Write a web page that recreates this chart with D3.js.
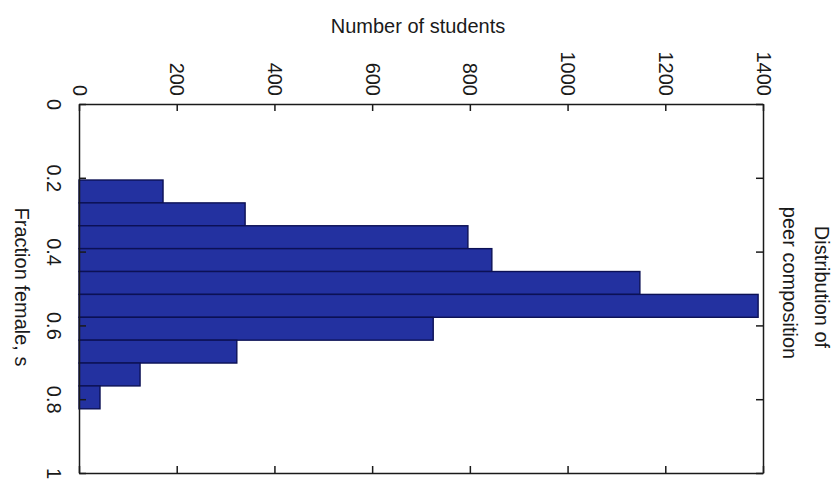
<!DOCTYPE html>
<html>
<head>
<meta charset="utf-8">
<script src="https://cdn.jsdelivr.net/npm/d3@7"></script>
<style>
  html, body { margin: 0; padding: 0; background: #fff; }
  svg { display: block; font-family: "Liberation Sans", Arial, Helvetica, sans-serif; }
</style>
</head>
<body>
<svg id="chart" width="840" height="483"></svg>
<script>
// ---- data ----
const binStart = [0.206, 0.268, 0.330, 0.392, 0.454, 0.516, 0.578, 0.640, 0.702, 0.764];
const binEnd   = [0.268, 0.330, 0.392, 0.454, 0.516, 0.578, 0.640, 0.702, 0.764, 0.826];
const counts   = [172, 340, 796, 845, 1148, 1390, 725, 323, 125, 43];
const countTicks = [0, 200, 400, 600, 800, 1000, 1200, 1400];
const fracTicks  = [0, 0.2, 0.4, 0.6, 0.8, 1];
const fracTickLabels = ["0", "0.2", "0.4", "0.6", "0.8", "1"];
const countTitle = "Number of students";
const fracTitle = "Fraction female, s";
const sideTitle = ["Distribution of", "peer composition"];

// ---- layout ----
const svg = d3.select("#chart");
const pLeft = 79, pRight = 763, pTop = 104, pBottom = 473;
const x = d3.scaleLinear().domain([0, 1400]).range([pLeft, pRight]);
const y = d3.scaleLinear().domain([0, 1]).range([pTop, pBottom]);
const ink = "#1a1a1a";

// bars (horizontal, rotated histogram)
svg.append("g").selectAll("rect")
  .data(counts)
  .join("rect")
  .attr("x", x(0))
  .attr("y", (d, i) => y(binStart[i]))
  .attr("width", d => x(d) - x(0))
  .attr("height", (d, i) => y(binEnd[i]) - y(binStart[i]))
  .attr("fill", "#2331a0")
  .attr("stroke", "#0c1155")
  .attr("stroke-width", 1.4);

function styleAxis(g) {
  g.selectAll(".domain").attr("stroke", ink).attr("stroke-width", 1.5);
  g.selectAll(".tick line").attr("stroke", ink).attr("stroke-width", 1.5);
  g.selectAll("text").attr("fill", ink).attr("font-size", 20)
    .attr("font-family", "'Liberation Sans', Arial, sans-serif");
}

// top axis (counts) with rotated labels
const gTop = svg.append("g").attr("transform", `translate(0,${pTop})`)
  .call(d3.axisTop(x).tickValues(countTicks).tickSizeInner(-7).tickSizeOuter(0).tickFormat(d3.format("d")));
styleAxis(gTop);
gTop.selectAll(".tick text")
  .attr("x", 0).attr("y", 0).attr("dy", "0.35em")
  .attr("text-anchor", "end")
  .attr("transform", "translate(0,-8) rotate(90)");

// bottom axis (ticks only)
const gBottom = svg.append("g").attr("transform", `translate(0,${pBottom})`)
  .call(d3.axisBottom(x).tickValues(countTicks).tickSizeInner(-7).tickSizeOuter(0).tickFormat(""));
styleAxis(gBottom);

// left axis (fraction) with rotated labels
const gLeft = svg.append("g").attr("transform", `translate(${pLeft},0)`)
  .call(d3.axisLeft(y).tickValues(fracTicks).tickSizeInner(-7).tickSizeOuter(0)
    .tickFormat((d, i) => fracTickLabels[i]));
styleAxis(gLeft);
gLeft.selectAll(".tick text")
  .attr("x", 0).attr("y", 0).attr("dy", 0)
  .attr("text-anchor", "middle")
  .attr("transform", "translate(-32,0) rotate(90)");

// right axis (ticks only)
const gRight = svg.append("g").attr("transform", `translate(${pRight},0)`)
  .call(d3.axisRight(y).tickValues(fracTicks).tickSizeInner(-7).tickSizeOuter(0).tickFormat(""));
styleAxis(gRight);

// titles
svg.append("text")
  .attr("x", 418).attr("y", 33)
  .attr("text-anchor", "middle")
  .attr("font-size", 20).attr("fill", ink)
  .text(countTitle);

svg.append("text")
  .attr("transform", "translate(15,287) rotate(90)")
  .attr("text-anchor", "middle")
  .attr("font-size", 20).attr("fill", ink)
  .text(fracTitle);

svg.append("text")
  .attr("transform", "translate(815,287) rotate(90)")
  .attr("text-anchor", "middle")
  .attr("font-size", 20).attr("fill", ink)
  .text(sideTitle[0]);

svg.append("text")
  .attr("transform", "translate(783,283) rotate(90)")
  .attr("text-anchor", "middle")
  .attr("font-size", 20).attr("fill", ink)
  .text(sideTitle[1]);
</script>
</body>
</html>
